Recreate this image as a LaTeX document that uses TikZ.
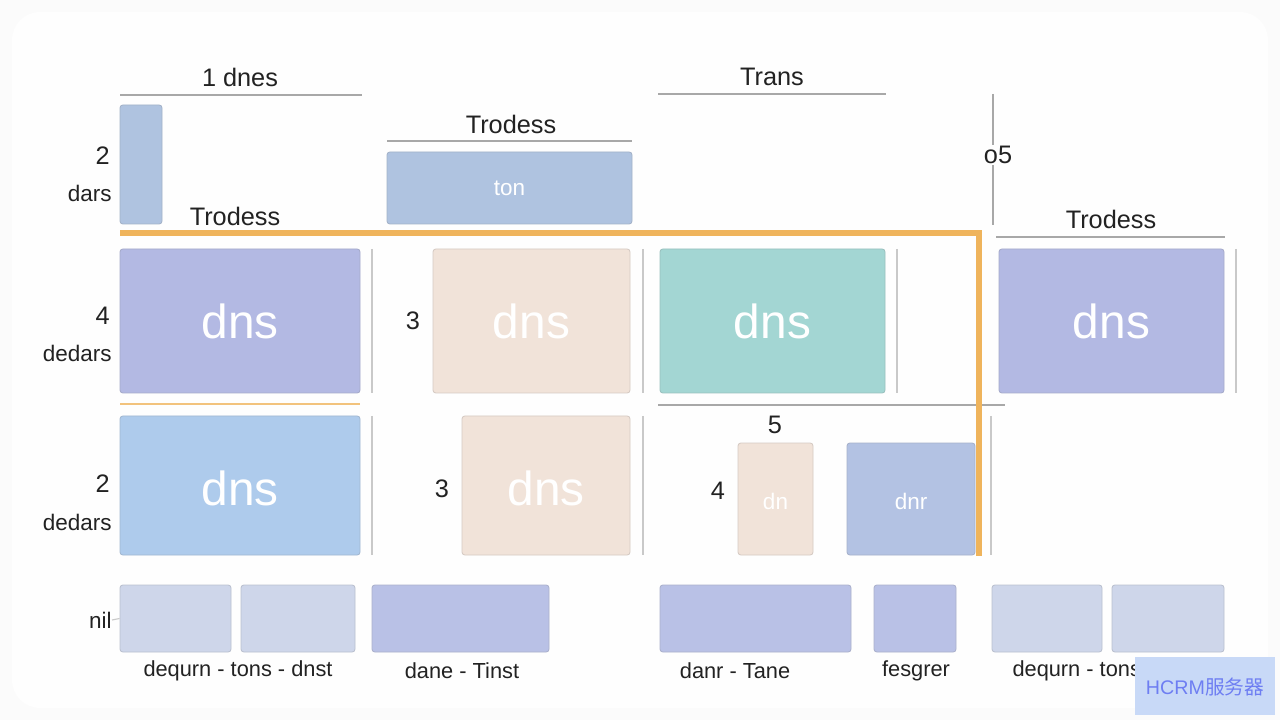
\documentclass[tikz,border=0pt]{standalone}
\usepackage{fontspec}
\setmainfont{Liberation Sans}
\newfontfamily\cjk{Noto Sans CJK SC}
\usetikzlibrary{fit}
\definecolor{lav}{HTML}{B3B9E3}
\definecolor{steel}{HTML}{AFC3E0}
\definecolor{peach}{HTML}{F1E3D9}
\definecolor{teal}{HTML}{A3D6D3}
\definecolor{skyb}{HTML}{AECBEC}
\definecolor{bluel}{HTML}{B3C2E3}
\definecolor{pale}{HTML}{CED6EA}
\definecolor{lavb}{HTML}{B9C1E6}
\definecolor{orng}{HTML}{EFB45C}
\definecolor{ink}{HTML}{222222}
\definecolor{sep}{HTML}{C9C9C9}
\definecolor{rule}{HTML}{A8A8A8}
\definecolor{wmf}{HTML}{C8D9F7}
\definecolor{wmt}{HTML}{6E7EF2}
\tikzset{
  box/.style={draw=#1!75!gray, fill=#1, rounded corners=2pt, inner sep=0pt, line width=0.6pt},
  lbl/.style={text=ink, font=\fontsize{18}{20}\selectfont, inner sep=0pt},
  sml/.style={text=ink, font=\fontsize{16}{18}\selectfont, inner sep=0pt},
  bot/.style={text=ink, font=\fontsize{15.5}{18}\selectfont, inner sep=0pt},
  big/.style={text=white, inner sep=0pt, font=\fontsize{34}{38}\selectfont},
  mid/.style={text=white, inner sep=0pt, font=\fontsize{16}{18}\selectfont},
  hrule/.style={draw=rule, line width=0.8pt},
  vsep/.style={draw=sep, line width=0.8pt},
  orline/.style={draw=orng, line width=3.6pt},
}
\begin{document}
\begin{tikzpicture}[x=0.025cm, y=-0.025cm]
\fill[white!97!gray] (0,0) rectangle (1280,720);
\fill[white!99!gray, rounded corners=20pt] (12,12) rectangle (1268,708);
\useasboundingbox (0,0) rectangle (1280,720);

% ---------- top headers ----------
\node[lbl] (h1) at (240,77) {1 dnes};
\coordinate (h1a) at (120,95); \coordinate (h1b) at (362,95);
\draw[hrule] (h1a) -- (h1b);

\node[box=steel, fit={(120,105) (162,224)}] (small) {};
\node[lbl, anchor=east] (n2) at (110,156) {2};
\node[sml, anchor=east] (dars) at (112,193) {dars};
\node[lbl] (tr1) at (235,216) {Trodess};

\node[lbl] (tr2) at (511,124) {Trodess};
\coordinate (tr2a) at (387,141); \coordinate (tr2b) at (632,141);
\draw[hrule] (tr2a) -- (tr2b);
\node[box=steel, fit={(387,152) (632,224)}] (ton) {};
\node[mid] (tonl) at (ton.center) {ton};

\node[lbl] (trans) at (772,77) {Trans};
\coordinate (tra) at (658,94); \coordinate (trb) at (886,94);
\draw[hrule] (tra) -- (trb);

\coordinate (v5a) at (993,94); \coordinate (v5b) at (993,225);
\draw[hrule] (v5a) -- (v5b);
\node[lbl, fill=white!99!gray, inner sep=1pt] (o5) at (998,155) {o5};

\node[lbl] (tr3) at (1111,219) {Trodess};
\coordinate (tr3a) at (996,237); \coordinate (tr3b) at (1225,237);
\draw[hrule] (tr3a) -- (tr3b);

% ---------- row 1 ----------
\node[lbl, anchor=east] (n4) at (110,316) {4};
\node[sml, anchor=east] (ded1) at (112,353) {dedars};
\node[box=lav, fit={(120,249) (360,393)}] (r1a) {};
\node[big] at (r1a.center) {dns};
\coordinate (s1a) at (372,249); \coordinate (s1b) at (372,393);
\draw[vsep] (s1a) -- (s1b);
\node[lbl] (n3a) at (413,321) {3};
\node[box=peach, fit={(433,249) (630,393)}] (r1b) {};
\node[big] at (r1b.center) {dns};
\coordinate (s2a) at (643,249); \coordinate (s2b) at (643,393);
\draw[vsep] (s2a) -- (s2b);
\node[box=teal, fit={(660,249) (885,393)}] (r1c) {};
\node[big] at (r1c.center) {dns};
\coordinate (s3a) at (897,249); \coordinate (s3b) at (897,393);
\draw[vsep] (s3a) -- (s3b);
\node[box=lav, fit={(999,249) (1224,393)}] (r1d) {};
\node[big] at (r1d.center) {dns};
\coordinate (s4a) at (1236,249); \coordinate (s4b) at (1236,393);
\draw[vsep] (s4a) -- (s4b);

% separators between rows
\coordinate (oa) at (120,404); \coordinate (ob) at (360,404);
\draw[draw=orng!80!white, line width=2pt] (oa) -- (ob);
\coordinate (ga) at (658,405); \coordinate (gb) at (1005,405);
\draw[hrule] (ga) -- (gb);

% ---------- row 2 ----------
\node[lbl, anchor=east] (n2b) at (110,484) {2};
\node[sml, anchor=east] (ded2) at (112,522) {dedars};
\node[box=skyb, fit={(120,416) (360,555)}] (r2a) {};
\node[big] at ([yshift=-2pt]r2a.center) {dns};
\coordinate (s5a) at (372,416); \coordinate (s5b) at (372,555);
\draw[vsep] (s5a) -- (s5b);
\node[lbl] (n3b) at (442,489) {3};
\node[box=peach, fit={(462,416) (630,555)}] (r2b) {};
\node[big] at ([yshift=-2pt]r2b.center) {dns};
\coordinate (s6a) at (643,416); \coordinate (s6b) at (643,555);
\draw[vsep] (s6a) -- (s6b);
\node[lbl] (n5) at (775,425) {5};
\node[lbl] (n4b) at (718,491) {4};
\node[box=peach, fit={(738,443) (813,555)}] (r2c) {};
\node[mid] at ([yshift=-1.5pt]r2c.center) {dn};
\node[box=bluel, fit={(847,443) (975,555)}] (r2d) {};
\node[mid] at ([yshift=-1.5pt]r2d.center) {dnr};
\coordinate (s7a) at (991,416); \coordinate (s7b) at (991,555);
\draw[vsep] (s7a) -- (s7b);

% orange line
\coordinate (o1) at (120,233); \coordinate (o2) at (979,233); \coordinate (o3) at (979,556);
\draw[orline] (o1) -- (o2) -- (o3);

% ---------- bottom row ----------
\node[sml, anchor=east] (nil) at (112,620) {nil};
\node[box=pale, fit={(120,585) (231,652)}] (b1) {};
\node[box=pale, fit={(241,585) (355,652)}] (b2) {};
\node[box=lavb, fit={(372,585) (549,652)}] (b3) {};
\draw[vsep] (nil.east) -- (b1.west);
\node[bot] (l1) at (238,671) {dequrn - tons - dnst};
\node[bot] (l2) at (462,671) {dane - Tinst};

\node[box=lavb, fit={(660,585) (851,652)}] (b4) {};
\node[box=lavb, fit={(874,585) (956,652)}] (b5) {};
\node[box=pale, fit={(992,585) (1102,652)}] (b6) {};
\node[box=pale, fit={(1112,585) (1224,652)}] (b7) {};
\node[bot] (l3) at (735,671) {danr - Tane};
\node[bot] (l4) at (916,671) {fesgrer};
\node[bot] (l5) at (1107,671) {dequrn - tons - dnst};

% watermark
\node[fill=wmf, fit={(1135,657) (1275,715)}, inner sep=0pt] (wm) {};
\node[text=wmt, font=\fontsize{14}{16}\selectfont] (wmt) at (1205,687) {HCRM\cjk 服务器};
\end{tikzpicture}
\end{document}
